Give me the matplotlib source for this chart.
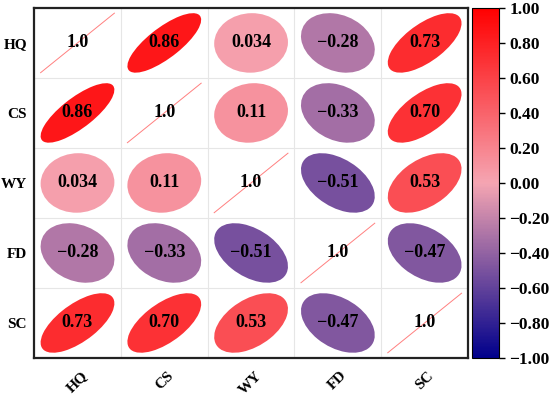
import matplotlib
matplotlib.use('Agg')
import matplotlib.pyplot as plt
import numpy as np
from matplotlib.patches import Ellipse
from matplotlib.colors import LinearSegmentedColormap, Normalize

labels = ['HQ', 'CS', 'WY', 'FD', 'SC']
corr = np.array([
    [1.0, 0.86, 0.034, -0.28, 0.73],
    [0.86, 1.0, 0.11, -0.33, 0.70],
    [0.034, 0.11, 1.0, -0.51, 0.53],
    [-0.28, -0.33, -0.51, 1.0, -0.47],
    [0.73, 0.70, 0.53, -0.47, 1.0],
])
cbar_ticks = [-1.0, -0.8, -0.6, -0.4, -0.2, 0.0, 0.2, 0.4, 0.6, 0.8, 1.0]

plt.rcParams['font.family'] = ['Liberation Serif', 'DejaVu Serif']
plt.rcParams['font.weight'] = 'bold'

cmap = LinearSegmentedColormap.from_list('bpr', ['#00008B', '#F5A5B2', '#FF0000'])
norm = Normalize(-1, 1)


def fmt(v):
    if v == 1.0:
        return '1.0'
    if abs(v) < 0.1:
        return f'{v:.2g}'
    return f'{v:.2f}'.replace('-', '\u2212')


fig = plt.figure(figsize=(5.5, 3.96), dpi=100)
ax = fig.add_axes([0.062, 0.096, 0.789, 0.884])
cax = fig.add_axes([0.858, 0.096, 0.049, 0.884])

n = len(labels)
c = 0.425
for i in range(n):
    for j in range(n):
        r = corr[i, j]
        x = j + 0.5
        y = n - i - 0.5
        if i == j:
            ax.plot([x - c, x + c], [y - c, y + c], color='#ff6060', lw=0.7, alpha=0.8, zorder=2)
        else:
            ratio = 1 - 0.75 * abs(r)
            a = c * np.sqrt(2 / (1 + ratio ** 2))
            b = a * ratio
            ang = 45 if r > 0 else -45
            ax.add_patch(Ellipse((x, y), 2 * a, 2 * b, angle=ang, facecolor=cmap(norm(r)),
                                 edgecolor='none', zorder=2))
        ax.text(x, y, fmt(r), ha='center', va='center', fontsize=13,
                fontweight='bold', color='black', zorder=3)

ax.set_xlim(0, n)
ax.set_ylim(0, n)
for k in range(1, n):
    ax.axvline(k, color='#e6e6e6', lw=0.8, zorder=1)
    ax.axhline(k, color='#e6e6e6', lw=0.8, zorder=1)
ax.set_xticks(np.arange(n) + 0.5)
ax.set_xticklabels(labels, rotation=45, fontsize=11, fontweight='bold')
ax.set_yticks(np.arange(n) + 0.5)
ax.set_yticklabels(labels[::-1], fontsize=11, fontweight='bold')
ax.tick_params(axis='y', length=0, pad=5)
ax.tick_params(axis='x', length=0, pad=8)
for s in ax.spines.values():
    s.set_linewidth(1.6)
    s.set_color('#222222')

sm = plt.cm.ScalarMappable(norm=norm, cmap=cmap)
cb = fig.colorbar(sm, cax=cax, ticks=cbar_ticks)
cb.ax.set_yticklabels([f'{t:.2f}'.replace('-', '\u2212') for t in cbar_ticks],
                      fontsize=12.5, fontweight='bold')
cb.ax.tick_params(length=4, width=1)
cb.outline.set_linewidth(0.8)

fig.savefig('out.png', dpi=100)
